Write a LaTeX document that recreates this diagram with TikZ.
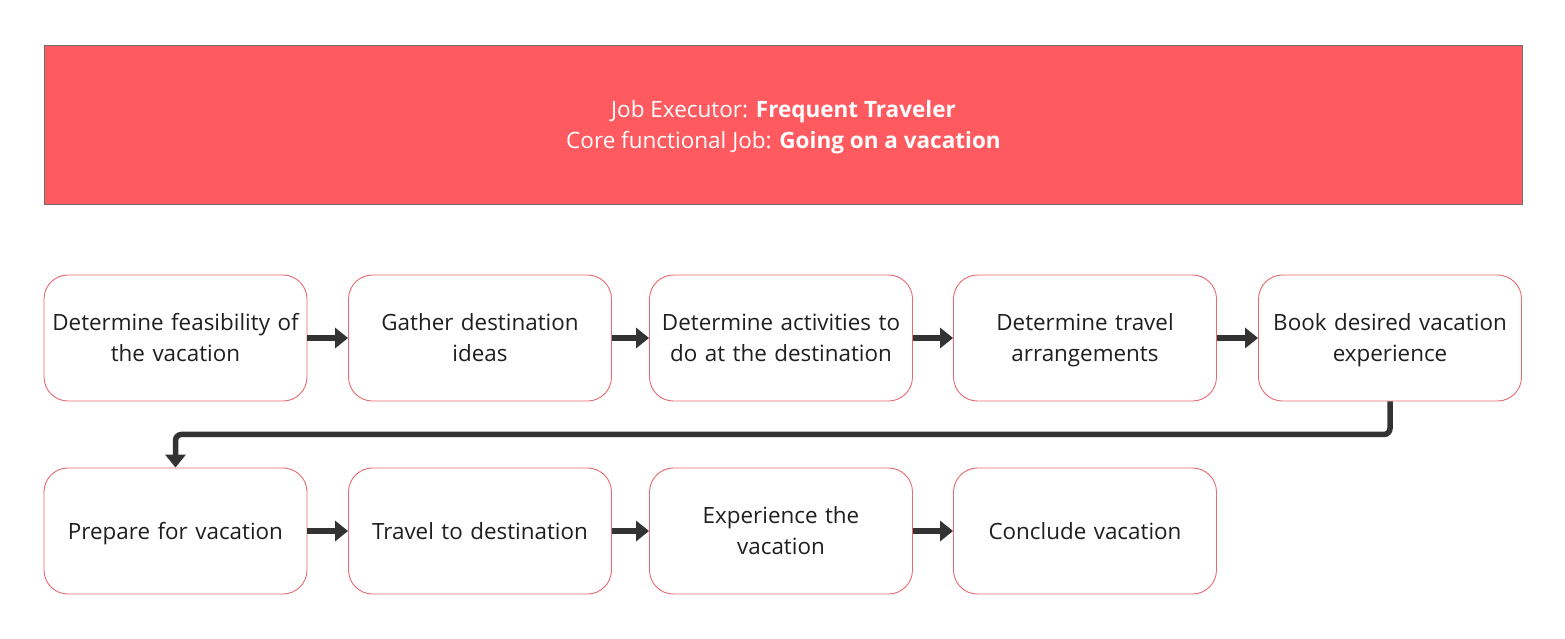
\documentclass[tikz,border=0pt]{standalone}
\usepackage{fontspec}
\setmainfont{Open Sans}
\usetikzlibrary{arrows.meta}
\definecolor{hdrfill}{HTML}{FF5A5F}
\definecolor{hdrline}{HTML}{6E6E6E}
\definecolor{boxline}{HTML}{E86A70}
\definecolor{arr}{HTML}{333333}
\definecolor{txt}{HTML}{1F1F1F}
\newcommand\ls{\rule[-7.3pt]{0pt}{31pt}}
\begin{document}
\begin{tikzpicture}[x=1pt,y=-1pt,
  stepbox/.style={draw=boxline, line width=0.9pt, rounded corners=24pt, fill=white,
    minimum width=263pt, minimum height=126pt, text width=255pt, align=center,
    font=\fontsize{22.4}{31}\selectfont, text=txt, inner sep=0pt},
  flow/.style={draw=arr, line width=5.5pt, -{Triangle[length=13pt,width=20pt]}}]
\useasboundingbox (0,0) rectangle (1565,638);
\node[fill=hdrfill, draw=hdrline, line width=1pt, minimum width=1478pt, minimum height=159pt,
  anchor=north west, align=center, text=white, inner sep=0pt,
  font=\fontsize{22.5}{31}\selectfont] (hdr) at (44,45)
  {\ls Job Executor: \textbf{Frequent Traveler}\\\ls Core functional Job: \textbf{Going on a vacation}};
\node[stepbox] (b1) at (175.5,338) {\ls Determine feasibility of\\\ls the vacation};
\node[stepbox] (b2) at (480,338) {\ls Gather destination\\\ls ideas};
\node[stepbox] (b3) at (781,338) {\ls Determine activities to\\\ls do at the destination};
\node[stepbox] (b4) at (1085,338) {\ls Determine travel\\\ls arrangements};
\node[stepbox] (b5) at (1390,338) {\ls Book desired vacation\\\ls experience};
\node[stepbox] (b6) at (175.5,531) {\ls Prepare for vacation};
\node[stepbox] (b7) at (480,531) {\ls Travel to destination};
\node[stepbox] (b8) at (781,531) {\ls Experience the\\\ls vacation};
\node[stepbox] (b9) at (1085,531) {\ls Conclude vacation};
\draw[flow] (b1.east) -- (b2.west);
\draw[flow] (b2.east) -- (b3.west);
\draw[flow] (b3.east) -- (b4.west);
\draw[flow] (b4.east) -- (b5.west);
\draw[flow, rounded corners=6pt] (b5.south) -- ++(0,33) -| (b6.north);
\draw[flow] (b6.east) -- (b7.west);
\draw[flow] (b7.east) -- (b8.west);
\draw[flow] (b8.east) -- (b9.west);
\end{tikzpicture}
\end{document}
